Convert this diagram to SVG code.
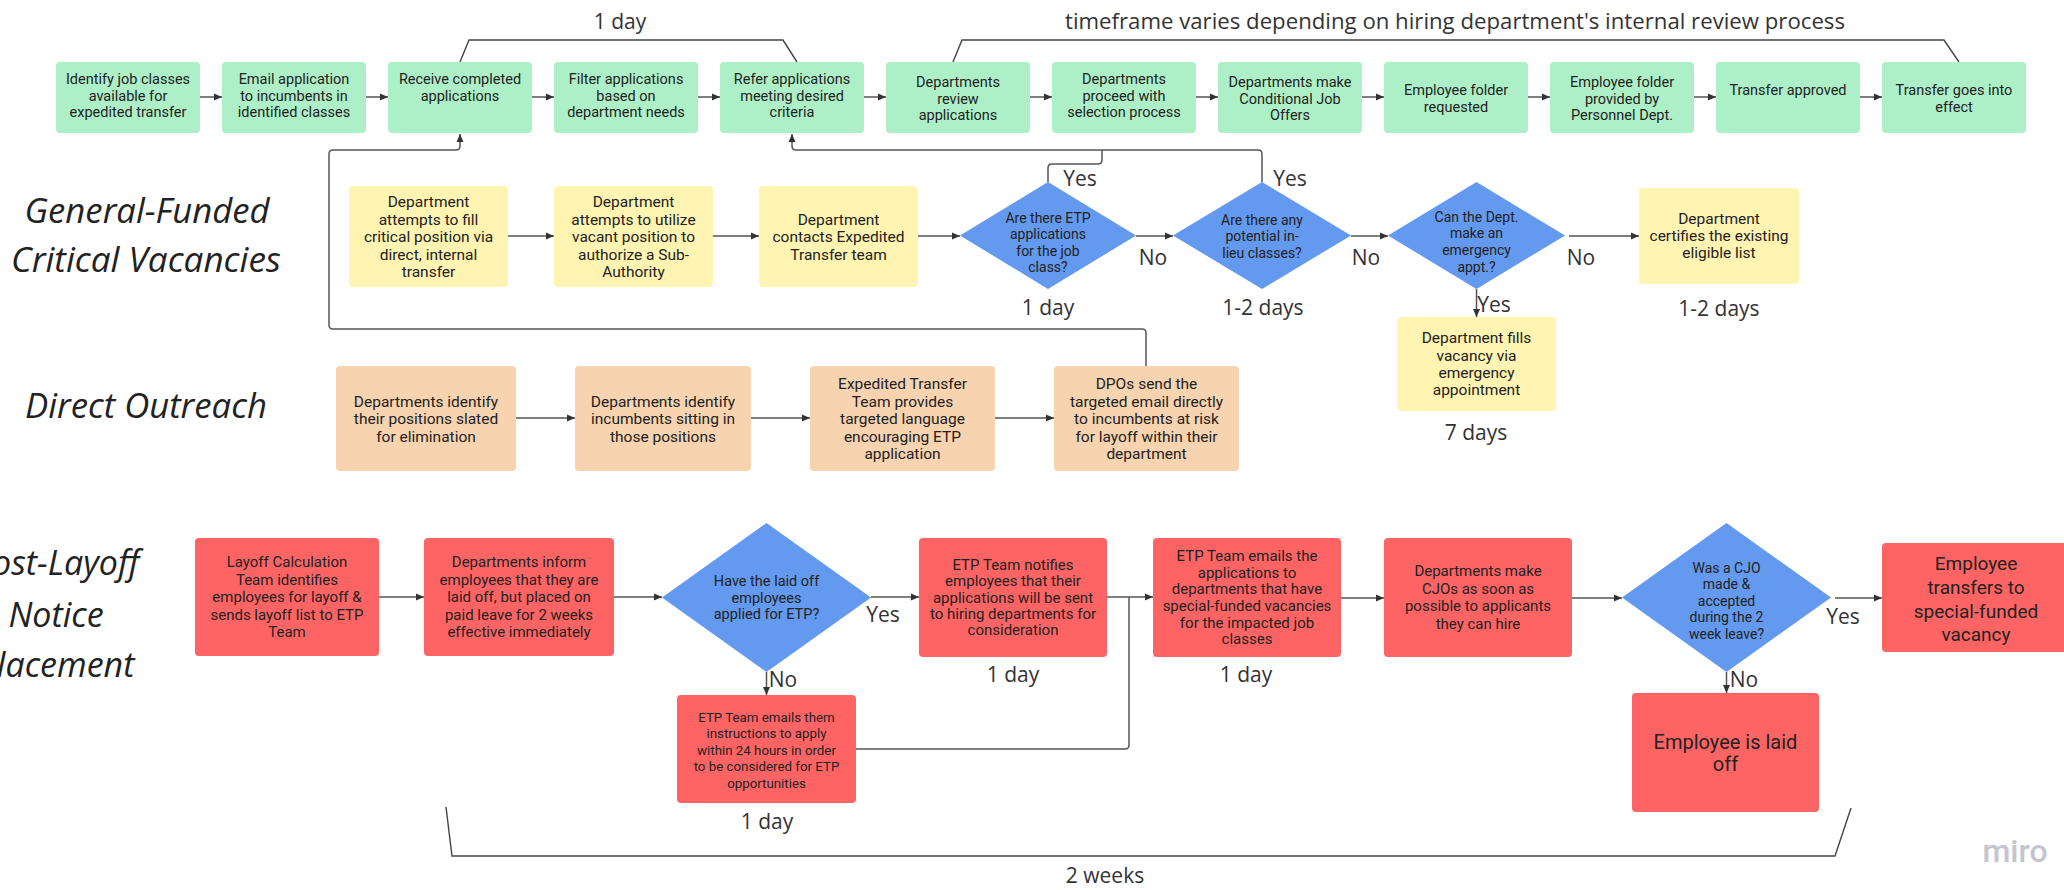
<svg xmlns="http://www.w3.org/2000/svg" width="2064" height="890" viewBox="0 0 2064 890">
<defs>
<marker id="arr" markerUnits="userSpaceOnUse" markerWidth="9" markerHeight="8" refX="8" refY="4" orient="auto">
<path d="M0,0.5 L8,4 L0,7.5 z" fill="#333"/>
</marker>
<style>
.g{fill:#ADF0C7}
.y{fill:#FFF4B2}
.o{fill:#F8D3AF}
.r{fill:#FE6464}
.d{fill:#6399EE}
text{font-family:Roboto,"Liberation Sans",sans-serif;fill:#222;text-anchor:middle}
.t13{font-size:13.3px}
.t135{font-size:14px}
.t14{font-size:14.5px}
.t145{font-size:15px}
.t15{font-size:15.5px}
.t19{font-size:19px}
.t20{font-size:20px}
.lbl{font-family:"Open Sans","Liberation Sans",sans-serif;font-size:21px;fill:#333}
.ttl{font-family:"Open Sans","Liberation Sans",sans-serif;font-size:34px;font-style:italic;fill:#222}
.c path{fill:none;stroke:#555;stroke-width:1.5}
.br{fill:none;stroke:#444;stroke-width:1.4}
</style>
</defs>
<rect width="2064" height="890" fill="#ffffff"/>

<!-- row titles -->
<g id="titles">
<text class="ttl" x="147" y="223" textLength="245" lengthAdjust="spacingAndGlyphs">General-Funded</text>
<text class="ttl" x="146" y="272" textLength="270" lengthAdjust="spacingAndGlyphs">Critical Vacancies</text>
<text class="ttl" x="146" y="418" textLength="242" lengthAdjust="spacingAndGlyphs">Direct Outreach</text>
<text class="ttl" x="56" y="575">Post-Layoff</text>
<text class="ttl" x="56" y="627">Notice</text>
<text class="ttl" x="56" y="677">Placement</text>
</g>

<!-- brackets and duration labels -->
<g id="brackets">
<path class="br" d="M460,62 L469,40 H783 L797,62"/>
<path class="br" d="M953,62 L962,40 H1944 L1959,62"/>
<path class="br" d="M446,807 L452,856 H1835 L1851,808"/>
<text class="lbl" x="620" y="29">1 day</text>
<text class="lbl" x="1455" y="29" textLength="780" lengthAdjust="spacingAndGlyphs">timeframe varies depending on hiring department's internal review process</text>
<text class="lbl" x="1105" y="883">2 weeks</text>
</g>

<!-- connectors -->
<g id="connectors" class="c">
<path d="M200,97 H222" marker-end="url(#arr)"/>
<path d="M366,97 H388" marker-end="url(#arr)"/>
<path d="M532,97 H554" marker-end="url(#arr)"/>
<path d="M698,97 H720" marker-end="url(#arr)"/>
<path d="M864,97 H886" marker-end="url(#arr)"/>
<path d="M1030,97 H1052" marker-end="url(#arr)"/>
<path d="M1196,97 H1218" marker-end="url(#arr)"/>
<path d="M1362,97 H1384" marker-end="url(#arr)"/>
<path d="M1528,97 H1550" marker-end="url(#arr)"/>
<path d="M1694,97 H1716" marker-end="url(#arr)"/>
<path d="M1860,97 H1882" marker-end="url(#arr)"/>

<path d="M508,236 H554" marker-end="url(#arr)"/>
<path d="M713,236 H759" marker-end="url(#arr)"/>
<path d="M918,236 H960" marker-end="url(#arr)"/>
<path d="M1136,236 H1173" marker-end="url(#arr)"/>
<path d="M1351,236 H1388" marker-end="url(#arr)"/>
<path d="M1569,236 H1639" marker-end="url(#arr)"/>
<path d="M1476.5,289 V317" marker-end="url(#arr)"/>

<path d="M1048,182 V168 Q1048,164 1052,164 H1098 Q1102,164 1102,160 V150"/>
<path d="M1262,182 V154 Q1262,150 1258,150 H796 Q792,150 792,146 V134" marker-end="url(#arr)"/>
<path d="M1146,367 V333 Q1146,329 1142,329 H333 Q329,329 329,325 V154 Q329,150 333,150 H456 Q460,150 460,146 V134" marker-end="url(#arr)"/>

<path d="M516,418 H575" marker-end="url(#arr)"/>
<path d="M751,418 H810" marker-end="url(#arr)"/>
<path d="M995,418 H1054" marker-end="url(#arr)"/>

<path d="M379,597 H424" marker-end="url(#arr)"/>
<path d="M614,597 H662" marker-end="url(#arr)"/>
<path d="M871,597 H919" marker-end="url(#arr)"/>
<path d="M766.5,672 V695" marker-end="url(#arr)"/>
<path d="M1107,597 H1153" marker-end="url(#arr)"/>
<path d="M856,749 H1125 Q1129,749 1129,745 V597"/>
<path d="M1341,598 H1384" marker-end="url(#arr)"/>
<path d="M1572,598 H1622" marker-end="url(#arr)"/>
<path d="M1835,598 H1882" marker-end="url(#arr)"/>
<path d="M1726.5,672 V693" marker-end="url(#arr)"/>
</g>

<!-- connector labels -->
<g id="labels">
<text class="lbl" x="1080" y="186">Yes</text>
<text class="lbl" x="1290" y="186">Yes</text>
<text class="lbl" x="1153" y="265">No</text>
<text class="lbl" x="1366" y="265">No</text>
<text class="lbl" x="1581" y="265">No</text>
<text class="lbl" x="1494" y="312">Yes</text>
<text class="lbl" x="1048" y="315">1 day</text>
<text class="lbl" x="1263" y="315">1-2 days</text>
<text class="lbl" x="1719" y="316">1-2 days</text>
<text class="lbl" x="1476" y="440">7 days</text>
<text class="lbl" x="883" y="622">Yes</text>
<text class="lbl" x="783" y="687">No</text>
<text class="lbl" x="767" y="829">1 day</text>
<text class="lbl" x="1013" y="682">1 day</text>
<text class="lbl" x="1246" y="682">1 day</text>
<text class="lbl" x="1843" y="624">Yes</text>
<text class="lbl" x="1744" y="687">No</text>
</g>

<!-- top row (green) -->
<g id="n1"><rect class="g" x="56" y="62" width="144" height="71" rx="4"/><text class="t14"><tspan x="128" y="84">Identify job classes</tspan><tspan x="128" y="100.5">available for</tspan><tspan x="128" y="117">expedited transfer</tspan></text></g>
<g id="n2"><rect class="g" x="222" y="62" width="144" height="71" rx="4"/><text class="t14"><tspan x="294" y="84">Email application</tspan><tspan x="294" y="100.5">to incumbents in</tspan><tspan x="294" y="117">identified classes</tspan></text></g>
<g id="n3"><rect class="g" x="388" y="62" width="144" height="71" rx="4"/><text class="t14"><tspan x="460" y="84">Receive completed</tspan><tspan x="460" y="100.5">applications</tspan></text></g>
<g id="n4"><rect class="g" x="554" y="62" width="144" height="71" rx="4"/><text class="t14"><tspan x="626" y="84">Filter applications</tspan><tspan x="626" y="100.5">based on</tspan><tspan x="626" y="117">department needs</tspan></text></g>
<g id="n5"><rect class="g" x="720" y="62" width="144" height="71" rx="4"/><text class="t14"><tspan x="792" y="84">Refer applications</tspan><tspan x="792" y="100.5">meeting desired</tspan><tspan x="792" y="117">criteria</tspan></text></g>
<g id="n6"><rect class="g" x="886" y="62" width="144" height="71" rx="4"/><text class="t14"><tspan x="958" y="87">Departments</tspan><tspan x="958" y="103.5">review</tspan><tspan x="958" y="120">applications</tspan></text></g>
<g id="n7"><rect class="g" x="1052" y="62" width="144" height="71" rx="4"/><text class="t14"><tspan x="1124" y="84">Departments</tspan><tspan x="1124" y="100.5">proceed with</tspan><tspan x="1124" y="117">selection process</tspan></text></g>
<g id="n8"><rect class="g" x="1218" y="62" width="144" height="71" rx="4"/><text class="t14"><tspan x="1290" y="87">Departments make</tspan><tspan x="1290" y="103.5">Conditional Job</tspan><tspan x="1290" y="120">Offers</tspan></text></g>
<g id="n9"><rect class="g" x="1384" y="62" width="144" height="71" rx="4"/><text class="t14"><tspan x="1456" y="95">Employee folder</tspan><tspan x="1456" y="111.5">requested</tspan></text></g>
<g id="n10"><rect class="g" x="1550" y="62" width="144" height="71" rx="4"/><text class="t14"><tspan x="1622" y="87">Employee folder</tspan><tspan x="1622" y="103.5">provided by</tspan><tspan x="1622" y="120">Personnel Dept.</tspan></text></g>
<g id="n11"><rect class="g" x="1716" y="62" width="144" height="71" rx="4"/><text class="t14"><tspan x="1788" y="95">Transfer approved</tspan></text></g>
<g id="n12"><rect class="g" x="1882" y="62" width="144" height="71" rx="4"/><text class="t14"><tspan x="1954" y="95">Transfer goes into</tspan><tspan x="1954" y="111.5">effect</tspan></text></g>

<!-- general-funded row (yellow) -->
<g id="y1"><rect class="y" x="349" y="186" width="159" height="101" rx="4"/><text class="t15"><tspan x="428.5" y="207">Department</tspan><tspan x="428.5" y="224.5">attempts to fill</tspan><tspan x="428.5" y="242">critical position via</tspan><tspan x="428.5" y="259.5">direct, internal</tspan><tspan x="428.5" y="277">transfer</tspan></text></g>
<g id="y2"><rect class="y" x="554" y="186" width="159" height="101" rx="4"/><text class="t15"><tspan x="633.5" y="207">Department</tspan><tspan x="633.5" y="224.5">attempts to utilize</tspan><tspan x="633.5" y="242">vacant position to</tspan><tspan x="633.5" y="259.5">authorize a Sub-</tspan><tspan x="633.5" y="277">Authority</tspan></text></g>
<g id="y3"><rect class="y" x="759" y="186" width="159" height="101" rx="4"/><text class="t15"><tspan x="838.5" y="224.5">Department</tspan><tspan x="838.5" y="242">contacts Expedited</tspan><tspan x="838.5" y="259.5">Transfer team</tspan></text></g>
<g id="d1"><polygon class="d" points="960,235.5 1048,182 1136,235.5 1048,289"/><text class="t135"><tspan x="1048" y="222.5">Are there ETP</tspan><tspan x="1048" y="238.5">applications</tspan><tspan x="1048" y="255.5">for the job</tspan><tspan x="1048" y="271.5">class?</tspan></text></g>
<g id="d2"><polygon class="d" points="1173,235.5 1262,182 1351,235.5 1262,289"/><text class="t135"><tspan x="1262" y="224.5">Are there any</tspan><tspan x="1262" y="241">potential in-</tspan><tspan x="1262" y="257.5">lieu classes?</tspan></text></g>
<g id="d3"><polygon class="d" points="1388,235.5 1476.5,182 1565,235.5 1476.5,289"/><text class="t135"><tspan x="1476.5" y="221.5">Can the Dept.</tspan><tspan x="1476.5" y="238">make an</tspan><tspan x="1476.5" y="255">emergency</tspan><tspan x="1476.5" y="271.5">appt.?</tspan></text></g>
<g id="y4"><rect class="y" x="1639" y="188" width="160" height="96" rx="4"/><text class="t15"><tspan x="1719" y="224">Department</tspan><tspan x="1719" y="241">certifies the existing</tspan><tspan x="1719" y="258">eligible list</tspan></text></g>
<g id="y5"><rect class="y" x="1397" y="317" width="159" height="94" rx="4"/><text class="t15"><tspan x="1476.5" y="343">Department fills</tspan><tspan x="1476.5" y="360.5">vacancy via</tspan><tspan x="1476.5" y="378">emergency</tspan><tspan x="1476.5" y="395">appointment</tspan></text></g>

<!-- direct outreach row (orange) -->
<g id="o1"><rect class="o" x="336" y="366" width="180" height="105" rx="4"/><text class="t15"><tspan x="426" y="407">Departments identify</tspan><tspan x="426" y="424">their positions slated</tspan><tspan x="426" y="442">for elimination</tspan></text></g>
<g id="o2"><rect class="o" x="575" y="366" width="176" height="105" rx="4"/><text class="t15"><tspan x="663" y="407">Departments identify</tspan><tspan x="663" y="424">incumbents sitting in</tspan><tspan x="663" y="442">those positions</tspan></text></g>
<g id="o3"><rect class="o" x="810" y="366" width="185" height="105" rx="4"/><text class="t15"><tspan x="902.5" y="389">Expedited Transfer</tspan><tspan x="902.5" y="407">Team provides</tspan><tspan x="902.5" y="424">targeted language</tspan><tspan x="902.5" y="442">encouraging ETP</tspan><tspan x="902.5" y="459">application</tspan></text></g>
<g id="o4"><rect class="o" x="1054" y="366" width="185" height="105" rx="4"/><text class="t15"><tspan x="1146.5" y="389">DPOs send the</tspan><tspan x="1146.5" y="407">targeted email directly</tspan><tspan x="1146.5" y="424">to incumbents at risk</tspan><tspan x="1146.5" y="442">for layoff within their</tspan><tspan x="1146.5" y="459">department</tspan></text></g>

<!-- post-layoff row (red) -->
<g id="r1"><rect class="r" x="195" y="538" width="184" height="118" rx="4"/><text class="t145"><tspan x="287" y="567">Layoff Calculation</tspan><tspan x="287" y="584.5">Team identifies</tspan><tspan x="287" y="602">employees for layoff &amp;</tspan><tspan x="287" y="619.5">sends layoff list to ETP</tspan><tspan x="287" y="637">Team</tspan></text></g>
<g id="r2"><rect class="r" x="424" y="538" width="190" height="118" rx="4"/><text class="t145"><tspan x="519" y="567">Departments inform</tspan><tspan x="519" y="584.5">employees that they are</tspan><tspan x="519" y="602">laid off, but placed on</tspan><tspan x="519" y="619.5">paid leave for 2 weeks</tspan><tspan x="519" y="637">effective immediately</tspan></text></g>
<g id="d4"><polygon class="d" points="662,597.5 766.5,523 871,597.5 766.5,672"/><text class="t14"><tspan x="766.5" y="586">Have the laid off</tspan><tspan x="766.5" y="603">employees</tspan><tspan x="766.5" y="619">applied for ETP?</tspan></text></g>
<g id="r3"><rect class="r" x="919" y="538" width="188" height="119" rx="4"/><text class="t145"><tspan x="1013" y="570">ETP Team notifies</tspan><tspan x="1013" y="586">employees that their</tspan><tspan x="1013" y="603">applications will be sent</tspan><tspan x="1013" y="619">to hiring departments for</tspan><tspan x="1013" y="635">consideration</tspan></text></g>
<g id="r4"><rect class="r" x="677" y="695" width="179" height="108" rx="4"/><text class="t13"><tspan x="766.5" y="721.5">ETP Team emails them</tspan><tspan x="766.5" y="738">instructions to apply</tspan><tspan x="766.5" y="754.5">within 24 hours in order</tspan><tspan x="766.5" y="771">to be considered for ETP</tspan><tspan x="766.5" y="787.5">opportunities</tspan></text></g>
<g id="r5"><rect class="r" x="1153" y="538" width="188" height="119" rx="4"/><text class="t145"><tspan x="1247" y="561">ETP Team emails the</tspan><tspan x="1247" y="578">applications to</tspan><tspan x="1247" y="594">departments that have</tspan><tspan x="1247" y="611">special-funded vacancies</tspan><tspan x="1247" y="628">for the impacted  job</tspan><tspan x="1247" y="644">classes</tspan></text></g>
<g id="r6"><rect class="r" x="1384" y="538" width="188" height="119" rx="4"/><text class="t145"><tspan x="1478" y="576">Departments make</tspan><tspan x="1478" y="593.5">CJOs as soon as</tspan><tspan x="1478" y="611">possible to applicants</tspan><tspan x="1478" y="628.5">they can hire</tspan></text></g>
<g id="d5"><polygon class="d" points="1622,597.5 1726.5,523 1831,597.5 1726.5,672"/><text class="t135"><tspan x="1726.5" y="572.5">Was a CJO</tspan><tspan x="1726.5" y="589">made &amp;</tspan><tspan x="1726.5" y="605.5">accepted</tspan><tspan x="1726.5" y="622">during the 2</tspan><tspan x="1726.5" y="638.5">week leave?</tspan></text></g>
<g id="r7"><rect class="r" x="1882" y="543" width="188" height="109" rx="4"/><text class="t19"><tspan x="1976" y="570">Employee</tspan><tspan x="1976" y="594">transfers to</tspan><tspan x="1976" y="618">special-funded</tspan><tspan x="1976" y="641">vacancy</tspan></text></g>
<g id="r8"><rect class="r" x="1632" y="693" width="187" height="119" rx="4"/><text class="t20"><tspan x="1725.5" y="749">Employee is laid</tspan><tspan x="1725.5" y="771">off</tspan></text></g>

<g id="watermark"><text x="2015" y="862" style="font-family:Roboto,sans-serif;font-size:32px;font-weight:500;fill:#C4C5CF">miro</text></g>
</svg>
